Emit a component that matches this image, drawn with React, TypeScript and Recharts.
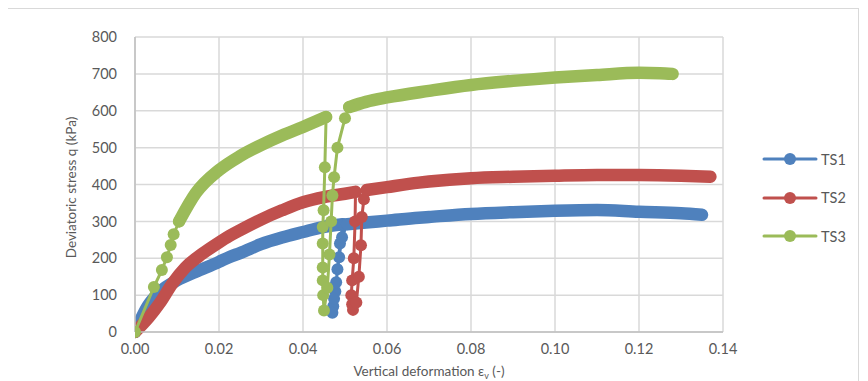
import React from 'react';
import { ComposedChart, Line, XAxis, YAxis, CartesianGrid } from 'recharts';

// [vertical deformation, deviatoric stress kPa]
const ts1Loading = [[0, 0], [0.003, 70], [0.006, 110], [0.01, 140], [0.0145, 163], [0.02, 190], [0.0224, 203], [0.025, 214], [0.03, 238], [0.035, 256], [0.04, 271], [0.0445, 284], [0.0495, 292]];
const ts1Loop = [[0.0495, 292], [0.0488, 240], [0.0482, 170], [0.0477, 110], [0.0472, 70], [0.047, 52], [0.0474, 90], [0.0479, 135], [0.0486, 203], [0.0493, 257], [0.0505, 292]];
const ts1Reloaded = [[0.0505, 292], [0.055, 297], [0.06, 302], [0.0676, 310], [0.07, 312], [0.08, 320], [0.09, 325], [0.1, 329], [0.11, 331], [0.12, 326], [0.13, 322], [0.135, 318]];

const ts2Loading = [[0, 0], [0.0033, 40], [0.006, 80], [0.0088, 130], [0.012, 175], [0.016, 212], [0.02, 243], [0.0224, 260], [0.025, 276], [0.03, 305], [0.035, 330], [0.04, 352], [0.045, 366], [0.05, 375], [0.0525, 380]];
const ts2Loop = [[0.0525, 380], [0.0524, 300], [0.0521, 200], [0.0517, 140], [0.0515, 100], [0.0517, 75], [0.0519, 60], [0.0527, 80], [0.0533, 150], [0.0538, 235], [0.054, 312], [0.0545, 360], [0.0552, 385]];
const ts2Reloaded = [[0.0552, 385], [0.06, 393], [0.0676, 405], [0.07, 408], [0.08, 417], [0.09, 421], [0.1, 424], [0.11, 426], [0.12, 426], [0.13, 424], [0.137, 421]];

const ts3Start = [[0, 0], [0.0045, 122], [0.0064, 168], [0.0076, 203], [0.0085, 236], [0.0092, 265], [0.0105, 300]];
const ts3Loading = [[0.0105, 300], [0.0145, 377], [0.02, 439], [0.025, 477], [0.03, 507], [0.035, 533], [0.04, 556], [0.0455, 583]];
const ts3Loop = [[0.0455, 583], [0.0452, 447], [0.0449, 330], [0.0447, 285], [0.0447, 240], [0.0447, 175], [0.0447, 140], [0.0448, 100], [0.045, 58], [0.0458, 120], [0.0463, 210], [0.0467, 300], [0.047, 370], [0.0474, 420], [0.0482, 500], [0.05, 580], [0.051, 610]];
const ts3Reloaded = [[0.051, 610], [0.055, 624], [0.06, 636], [0.07, 654], [0.08, 670], [0.09, 681], [0.1, 690], [0.11, 697], [0.12, 703], [0.125, 702], [0.128, 700]];

const xTicks = [0, 0.02, 0.04, 0.06, 0.08, 0.1, 0.12, 0.14];
const yTicks = [0, 100, 200, 300, 400, 500, 600, 700, 800];

const seriesNames = ['TS1', 'TS2', 'TS3'];
const seriesColors = ['#4f81bd', '#c0504d', '#9bbb59'];

const toPoints = (arr: number[][]) => arr.map(([x, q]) => ({ x, q }));

// dense parts look like a thick band, sparse parts show the markers
const segments = [
  { key: 'ts1a', data: ts1Loading, s: 0, dense: true },
  { key: 'ts1b', data: ts1Loop, s: 0, dense: false },
  { key: 'ts1c', data: ts1Reloaded, s: 0, dense: true },
  { key: 'ts2a', data: ts2Loading, s: 1, dense: true },
  { key: 'ts2b', data: ts2Loop, s: 1, dense: false },
  { key: 'ts2c', data: ts2Reloaded, s: 1, dense: true },
  { key: 'ts3s', data: ts3Start, s: 2, dense: false },
  { key: 'ts3a', data: ts3Loading, s: 2, dense: true },
  { key: 'ts3b', data: ts3Loop, s: 2, dense: false },
  { key: 'ts3c', data: ts3Reloaded, s: 2, dense: true },
];

const FONT = 'Lato, "Open Sans", sans-serif';
const TEXT = '#595959';

const XTitle = (props: any) => {
  const vb = props.viewBox;
  return (
    <text x={vb.x + vb.width / 2} y={vb.y + 44} textAnchor="middle" fill={TEXT} fontSize={13.5} fontFamily={FONT}>
      Vertical deformation ε<tspan fontSize={9} dy={3}>v</tspan>
      <tspan dy={-3}> (-)</tspan>
    </text>
  );
};

const YTitle = (props: any) => {
  const vb = props.viewBox;
  const cx = vb.x + 3;
  const cy = vb.y + vb.height / 2 + 3;
  return (
    <text x={cx} y={cy} transform={`rotate(-90, ${cx}, ${cy})`} textAnchor="middle" dominantBaseline="central" fill={TEXT} fontSize={13.5} fontFamily={FONT}>
      Deviatoric stress q (kPa)
    </text>
  );
};

export default function App() {
  return (
    <div style={{ position: 'relative', width: 850, height: 380, border: '1px solid #d9d9d9', marginLeft: -1, background: '#fff', fontFamily: FONT }}>
      <ComposedChart width={850} height={380} margin={{ top: 28, right: 135, bottom: 27, left: 60 }}>
        <CartesianGrid stroke="#d9d9d9" strokeWidth={1.5} />
        <XAxis
          type="number"
          dataKey="x"
          domain={[0, 0.14]}
          ticks={xTicks}
          tickFormatter={(v: number) => v.toFixed(2)}
          allowDataOverflow
          height={30}
          tickSize={0}
          tickMargin={12}
          stroke="#bfbfbf"
          strokeWidth={1.5}
          tick={{ fill: TEXT, fontSize: 14.5, fontFamily: FONT }}
          label={{ content: XTitle }}
        />
        <YAxis
          type="number"
          dataKey="q"
          domain={[0, 800]}
          ticks={yTicks}
          width={67}
          tickSize={0}
          tickMargin={18}
          stroke="#bfbfbf"
          strokeWidth={1.5}
          tick={{ fill: TEXT, fontSize: 14.5, fontFamily: FONT }}
          label={{ content: YTitle }}
        />
        {segments.map((seg) => (
          <Line
            key={seg.key}
            data={toPoints(seg.data)}
            dataKey="q"
            type={seg.dense ? 'monotone' : 'linear'}
            stroke={seriesColors[seg.s]}
            strokeWidth={seg.dense ? 12.5 : 3}
            strokeLinecap="round"
            strokeLinejoin="round"
            dot={seg.dense ? false : { r: 6, fill: seriesColors[seg.s], stroke: 'none' }}
            activeDot={false}
            isAnimationActive={false}
            legendType="none"
          />
        ))}
      </ComposedChart>
      <div style={{ position: 'absolute', left: 754, top: 140 }}>
        {seriesNames.map((name, i) => (
          <div key={name} style={{ display: 'flex', alignItems: 'center', height: 20, marginBottom: i < 2 ? 18.5 : 0 }}>
            <svg width={56} height={20}>
              <line x1={2} y1={10} x2={54} y2={10} stroke={seriesColors[i]} strokeWidth={3} strokeLinecap="round" />
              <circle cx={28} cy={10} r={6} fill={seriesColors[i]} />
            </svg>
            <span style={{ color: TEXT, fontSize: 14.5, marginLeft: 3 }}>{name}</span>
          </div>
        ))}
      </div>
    </div>
  );
}
